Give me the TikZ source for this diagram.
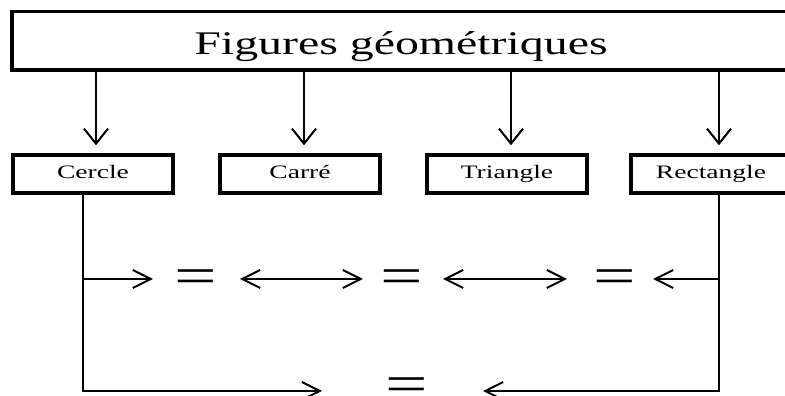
\documentclass[tikz,border=0pt]{standalone}
\usepackage{fontspec}
\setmainfont{Liberation Serif}
\usetikzlibrary{arrows.meta}
\begin{document}
\begin{tikzpicture}[x=1pt,y=1pt,
  box/.style={draw, line width=3.5pt, minimum height=38pt, minimum width=160pt, inner sep=0pt,
    text height=13pt, text depth=4pt, font=\fontsize{19}{19}\selectfont},
  link/.style={line width=1.7pt},
  downarrow/.style={link, -{Straight Barb[length=15pt,width=24pt,line width=2pt]}},
  harrow/.style={link, -{Straight Barb[length=18pt,width=18pt,line width=2pt]}},
  dharrow/.style={link, {Straight Barb[length=18pt,width=18pt,line width=2pt]}-{Straight Barb[length=18pt,width=18pt,line width=2pt]}},
  eqsign/.style={inner sep=0pt, anchor=base, font=\fontsize{52}{52}\selectfont},
]
\useasboundingbox (0,0) rectangle (785,396);
\clip (0,0) rectangle (785,396);

% top box and title
\node[box, minimum width=788pt, minimum height=58.5pt] (top) at (406,355.25) {};
\node[anchor=base, inner sep=0pt, font=\fontsize{33}{33}\selectfont] (title) at (401,341) {\scalebox{1.45}[1]{Figures géométriques}};

% small boxes
\node[box] (cercle) at (93,222) {\scalebox{1.45}[1]{Cercle}};
\node[box] (carre) at (300,222) {\scalebox{1.45}[1]{Carré}};
\node[box] (triangle) at (507,222) {\scalebox{1.45}[1]{Triangle}};
\node[box] (rect) at (711,222) {\scalebox{1.45}[1]{Rectangle}};

% arrow columns
\coordinate (d1) at (96,0);
\coordinate (d2) at (304,0);
\coordinate (d3) at (511,0);
\coordinate (d4) at (719,0);
\draw[downarrow] (top.south -| d1) -- ([yshift=8pt]cercle.north -| d1);
\draw[downarrow] (top.south -| d2) -- ([yshift=8pt]carre.north -| d2);
\draw[downarrow] (top.south -| d3) -- ([yshift=8pt]triangle.north -| d3);
\draw[downarrow] (top.south -| d4) -- ([yshift=8pt]rect.north -| d4);

% side lines and bottom row
\coordinate (L) at (83,5);
\coordinate (R) at (719,5);
\coordinate (bt1) at (322,5);
\coordinate (bt2) at (483,5);
\draw[harrow] (cercle.south -| L) |- (bt1);
\draw[harrow] (rect.south -| R) |- (bt2);
\node[eqsign] (eqb) at (407,-6) {\scalebox{1.45}[1]{=}};

% middle row
\coordinate (m1) at (153,117);
\coordinate (m2a) at (240,117);
\coordinate (m2b) at (363,117);
\coordinate (m3a) at (443,117);
\coordinate (m3b) at (567,117);
\coordinate (m4) at (653,117);
\draw[harrow] (L |- m1) -- (m1);
\draw[dharrow] (m2a) -- (m2b);
\draw[dharrow] (m3a) -- (m3b);
\draw[harrow] (R |- m4) -- (m4);
\node[eqsign] (eq1) at (196,102.5) {\scalebox{1.45}[1]{=}};
\node[eqsign] (eq2) at (402,102.5) {\scalebox{1.45}[1]{=}};
\node[eqsign] (eq3) at (614.5,102.5) {\scalebox{1.45}[1]{=}};
\end{tikzpicture}
\end{document}
